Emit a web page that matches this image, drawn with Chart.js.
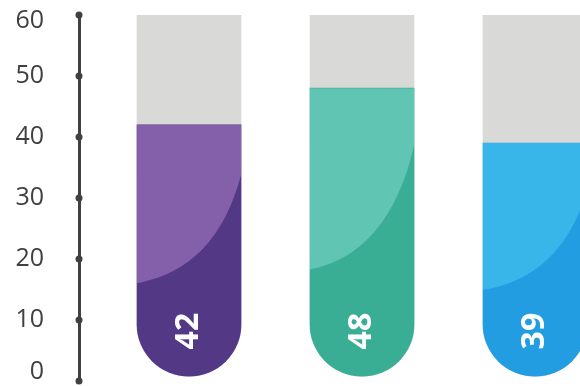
<!DOCTYPE html>
<html>
<head>
<meta charset="utf-8">
<script src="https://cdn.jsdelivr.net/npm/chart.js@4.4.1/dist/chart.umd.min.js"></script>
<style>
  html, body { margin: 0; padding: 0; background: #fff; overflow: hidden; }
  #wrap { width: 580px; height: 386px; position: relative; }
</style>
</head>
<body>
<div id="wrap"><canvas id="tubes"></canvas></div>
<script>
// ---- data ----
const tubeX = [0, 1, 2];
const tubeValues = [42, 48, 39];
const tubeMax = [60, 60, 60];
const yTicks = [0, 10, 20, 30, 40, 50, 60];
const darkColors = ['#533886', '#3aae95', '#239de1'];
const lightColors = ['#8560aa', '#60c5b3', '#38b6ea'];

const AXIS_COLOR = '#404040';

// shine on the top-left part of each tube + the rotated value label
const tubeDecor = {
  id: 'tubeDecor',
  afterDatasetsDraw(chart) {
    const ctx = chart.ctx;
    const meta = chart.getDatasetMeta(0);
    meta.data.forEach((bar, i) => {
      const p = bar.getProps(['x', 'y', 'base', 'width'], true);
      const l = p.x - p.width / 2, r = p.x + p.width / 2;
      const h = p.base - p.y;
      const yL = p.base - 0.37 * h;
      const yR = p.base - 0.80 * h;

      ctx.save();
      ctx.beginPath();
      ctx.rect(l, p.y, p.width, h);
      ctx.clip();
      ctx.fillStyle = lightColors[i];
      ctx.beginPath();
      ctx.moveTo(l, p.y);
      ctx.lineTo(l, yL);
      ctx.quadraticCurveTo(l + 0.76 * p.width, yL - 0.13 * (yL - yR), r, yR);
      ctx.lineTo(r, p.y);
      ctx.closePath();
      ctx.fill();
      ctx.restore();

      ctx.save();
      ctx.translate(p.x, p.base - 45);
      ctx.rotate(-Math.PI / 2);
      ctx.fillStyle = '#fff';
      ctx.font = 'bold 32px "Open Sans"';
      ctx.textAlign = 'center';
      ctx.textBaseline = 'middle';
      ctx.fillText(String(tubeValues[i]), 0, 0);
      ctx.restore();
    });

    // dots on the axis line
    const ys = chart.scales.y;
    ctx.save();
    ctx.fillStyle = AXIS_COLOR;
    ys.ticks.forEach(t => {
      ctx.beginPath();
      ctx.arc(chart.chartArea.left, ys.getPixelForValue(t.value), 3.5, 0, Math.PI * 2);
      ctx.fill();
    });
    ctx.restore();
  }
};

const tubeStyle = {
  grouped: false,
  barThickness: 104,
  base: 0.8,
  borderSkipped: false,
  borderRadius: { topLeft: 0, topRight: 0, bottomLeft: 52, bottomRight: 52 }
};

new Chart(document.getElementById('tubes'), {
  type: 'bar',
  data: {
    datasets: [
      Object.assign({
        data: tubeX.map((x, i) => ({ x: x, y: tubeValues[i] })),
        backgroundColor: darkColors
      }, tubeStyle),
      Object.assign({
        data: tubeX.map((x, i) => ({ x: x, y: tubeMax[i] })),
        backgroundColor: '#d9d9d8'
      }, tubeStyle)
    ]
  },
  options: {
    responsive: true,
    maintainAspectRatio: false,
    animation: false,
    layout: { padding: { top: 15, bottom: 5, left: 0, right: 0 } },
    plugins: { legend: { display: false }, tooltip: { enabled: false } },
    scales: {
      x: { type: 'linear', min: -0.636, max: 2.26, offset: false, display: false },
      y: {
        min: 0, max: 60,
        afterBuildTicks: s => { s.ticks = yTicks.map(v => ({ value: v })); },
        afterFit: s => { s.width = 79; s.paddingTop = 0; s.paddingBottom = 0; },
        grid: { color: 'rgba(0,0,0,0)', drawTicks: false },
        border: { display: true, color: AXIS_COLOR, width: 3 },
        ticks: {
          padding: 35,
          color: AXIS_COLOR,
          // first / last label sit a little inside the axis ends
          callback: v => v === 0 ? [String(v), ''] : v === 60 ? ['', String(v)] : String(v),
          font: c => ({
            family: 'Open Sans', size: 25,
            lineHeight: c.tick && c.tick.value === 0 ? 0.72 : c.tick && c.tick.value === 60 ? 0.44 : 0.4
          })
        }
      }
    }
  },
  plugins: [tubeDecor]
});
</script>
</body>
</html>
